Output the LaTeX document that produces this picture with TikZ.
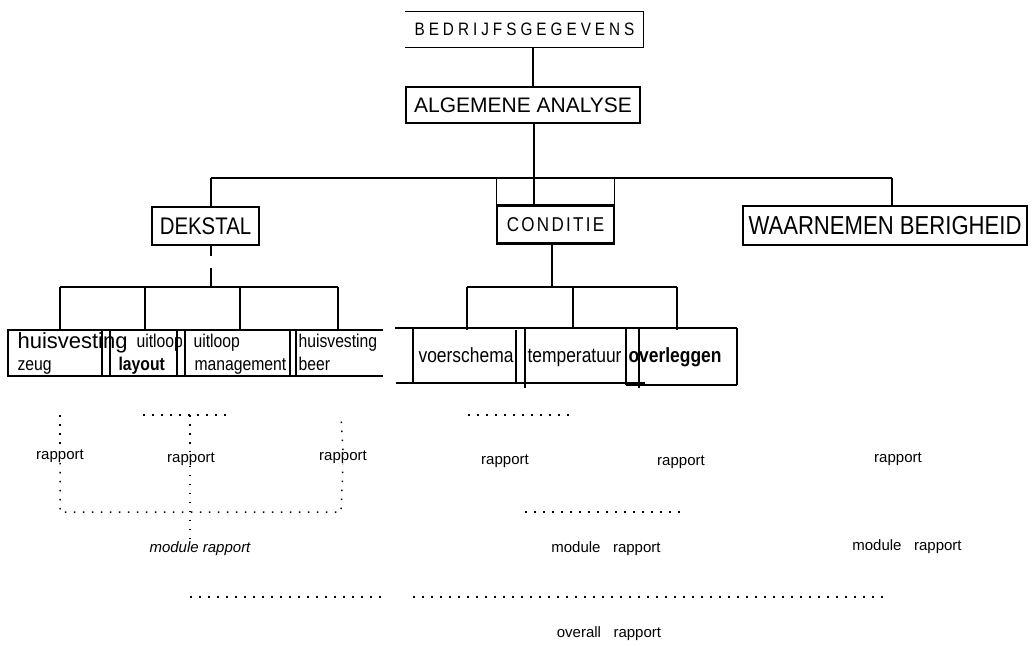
\documentclass[tikz,border=0pt]{standalone}
\usepackage{fontspec}
\setmainfont{Liberation Sans}
\newfontfamily\narrow[FakeStretch=0.85]{Liberation Sans}
\usetikzlibrary{calc}
\newdimen\lsp
\def\spaced#1{\spacedaux#1\relax}
\def\spacedaux#1{\ifx\relax#1\unkern\else#1\kern\lsp\expandafter\spacedaux\fi}
\begin{document}
\begin{tikzpicture}[x=1pt,y=-1pt,line width=1.1pt,
  boxnode/.style={inner sep=0pt,draw},
  plainnode/.style={inner sep=0pt},
  heavy/.style={line width=2.2pt},
  dots/.style={line width=1.5pt,dash pattern=on 1.5pt off 7.5pt},
  rowtxt/.style={inner sep=0pt,anchor=base west,font=\narrow\fontsize{18.5}{20}\selectfont},
  midtxt/.style={inner sep=0pt,anchor=base west,font=\narrow\fontsize{20.5}{22}\selectfont},
  lbl/.style={inner sep=0pt,font=\fontsize{15}{17}\selectfont}]
\useasboundingbox (0,0) rectangle (1033,646);

% ---------- top boxes ----------
\node[plainnode,minimum width=237pt,minimum height=35pt] (bedr) at (524.5,29.5)
  {\narrow\fontsize{18}{20}\selectfont\lsp=4pt\spaced{BEDRIJFSGEGEVENS}};
\draw (bedr.north west) -- (bedr.north east) -- (bedr.south east) -- (bedr.south west);
\node[boxnode,minimum width=234pt,minimum height=36pt,font=\fontsize{21}{23}\selectfont] (alg) at (523,105) {ALGEMENE ANALYSE};
\node[boxnode,minimum width=107pt,minimum height=38pt,font=\narrow\fontsize{24}{26}\selectfont] (dek) at (205.5,226) {DEKSTAL};
\node[boxnode,minimum width=117pt,minimum height=37pt] (cond) at (555.5,224.5)
  {\narrow\fontsize{20}{22}\selectfont\lsp=2.3pt\spaced{CONDITIE}};
\draw[heavy] (cond.north west) -- (cond.north east);
\draw[heavy] (cond.south west) -- (cond.south east);
\node[boxnode,minimum width=284pt,minimum height=39pt,font=\narrow\fontsize{26}{28}\selectfont] (wb) at (885,225.5) {WAARNEMEN BERIGHEID};

% ---------- connectors ----------
\coordinate (xa) at (533,0);
\coordinate (bus) at (534,178);
\coordinate (xd) at (211,178);
\coordinate (xw) at (892,178);
\draw (bedr.south -| xa) -- (alg.north -| xa);
\draw (alg.south -| bus) -- (bus);
\draw (xd) -- (xw);
\draw (xd) -- (dek.north -| xd);
\draw (xw) -- (wb.north -| xw);
\draw (bus) -- (cond.north -| bus);
\draw (cond.north west) -- (cond.north west |- bus);
\draw (cond.north east) -- (cond.north east |- bus);

% DEKSTAL branch
\coordinate (lh) at (211,287);
\draw (dek.south -| xd) -- ++(0,10);
\draw ($(lh)+(0,-19)$) -- (lh);
\draw (60,287) -- (338,287);
\draw (60,287) -- (60,330);
\draw[heavy] (145,287) -- (145,330);
\draw (240,287) -- (240,330);
\draw (338,287) -- (338,330);

% left row of boxes
\draw (8,330) -- (383,330);
\draw (8,376) -- (383,376);
\draw[heavy] (8,329) -- (8,377);
\draw (102,330) -- (102,376);
\draw[heavy] (110,330) -- (110,376);
\draw (177,330) -- (177,376);
\draw (185,330) -- (185,376);
\draw (290,330) -- (290,376);
\draw (296,330) -- (296,376);

\node[inner sep=0pt,anchor=base west,font=\fontsize{22}{24}\selectfont] (hz1) at (17,348) {huisvesting};
\node[rowtxt] (hz2) at (17,370) {zeug};
\node[rowtxt] (ul1) at (136,347) {uitloop};
\node[rowtxt,font=\narrow\bfseries\fontsize{18.5}{20}\selectfont] (ul2) at (118,370) {layout};
\node[rowtxt] (um1) at (193,347) {uitloop};
\node[rowtxt] (um2) at (194,370) {management};
\node[rowtxt] (hb1) at (298,347) {huisvesting};
\node[rowtxt] (hb2) at (298,370) {beer};

% CONDITIE branch
\coordinate (ch) at (552,287);
\draw (cond.south -| ch) -- (ch);
\draw[heavy] (467,287) -- (677,287);
\draw (467,287) -- (467,330);
\draw (573,287) -- (573,328);
\draw (677,287) -- (677,330);

% middle row of boxes
\draw[heavy] (395,328) -- (737,328);
\draw[heavy] (396,383) -- (645,383);
\draw (626,385) -- (737,385);
\draw (413,328) -- (413,383);
\draw[heavy] (516,330) -- (516,383);
\draw (525,328) -- (525,388);
\draw (626,328) -- (626,385);
\draw (639,328) -- (639,388);
\draw (737,328) -- (737,385);

\node[midtxt] (vs) at (418,362) {voerschema};
\node[midtxt] (tp) at (527,362) {temperatuur};
\node[midtxt,font=\narrow\bfseries\fontsize{20.5}{22}\selectfont] (ov) at (628,362) {overleggen};

% ---------- reports, left group ----------
\node[lbl] (rL) at (60,456) {rapport};
\node[lbl] (rM) at (191,459) {rapport};
\node[lbl] (rR) at (343,457) {rapport};
\node[lbl,font=\itshape\fontsize{15}{17}\selectfont] (modL) at (200,549) {module rapport};
\coordinate (tl) at (143,415);
\coordinate (tr) at (232,415);
\coordinate (tm) at (190,415);
\coordinate (cl) at (60,512);
\coordinate (cr) at (341,512);
\draw[dots] (tl) -- (tr);
\draw[dots] (60,415) -- (rL.north);
\draw[dots] (rL.south) -- (cl) -- (cr) -- (rR.south);
\draw[dots] (rR.north) -- (341,415);
\draw[dots] (tm) -- (rM.north -| tm);
\draw[dots] (rM.south -| tm) -- (modL.north -| tm);

% ---------- reports, middle and right ----------
\draw[dots] (468,415) -- (572,415);
\node[lbl] (rC1) at (505,461) {rapport};
\node[lbl] (rC2) at (681,462) {rapport};
\node[lbl] (rW) at (898,459) {rapport};
\draw[dots] (525,512) -- (680,512);
\node[lbl] (modC) at (606,549) {module\ \ \ rapport};
\node[lbl] (modW) at (907,547) {module\ \ \ rapport};

% ---------- overall ----------
\draw[dots] (190,597) -- (383,597);
\draw[dots] (413,597) -- (886,597);
\node[lbl] (all) at (609,634) {overall\ \ \ rapport};
\end{tikzpicture}
\end{document}
